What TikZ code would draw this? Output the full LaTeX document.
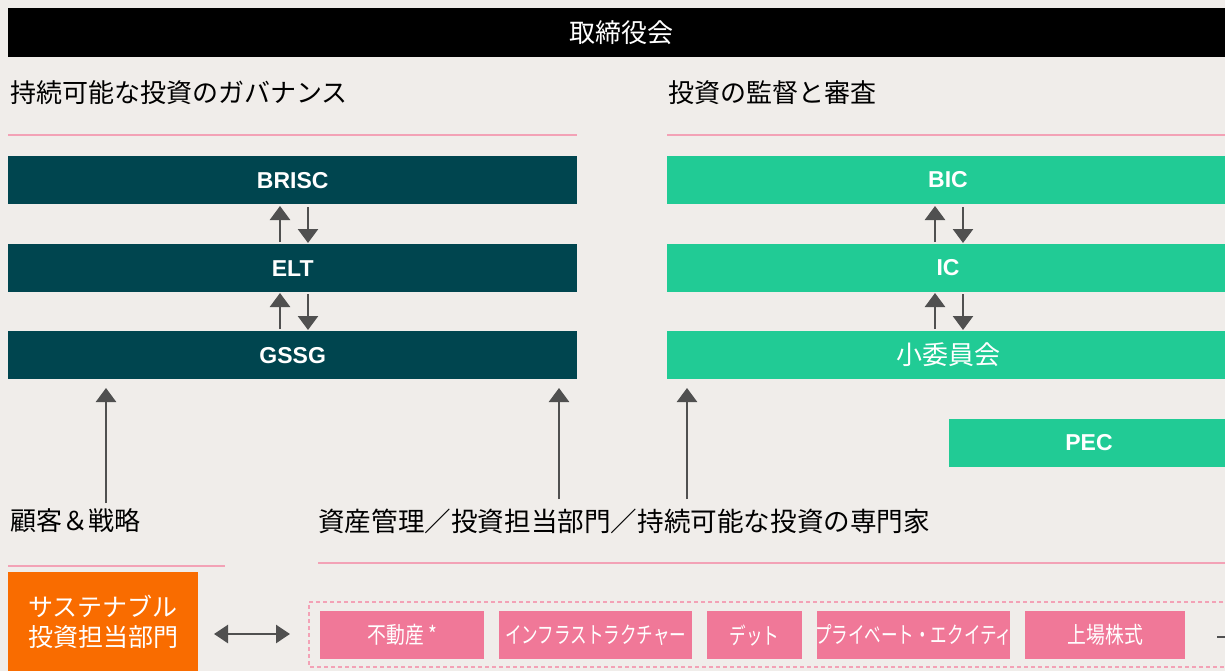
\documentclass[tikz,border=0pt]{standalone}
\usepackage{fontspec}
\setmainfont{Noto Sans CJK JP}
\newfontfamily\narrowjp[FakeStretch=0.72]{Noto Sans CJK JP}
\newfontfamily\midjp[FakeStretch=0.82]{Noto Sans CJK JP}
\newfontfamily\latinb{Liberation Sans}
\usetikzlibrary{arrows.meta}
\definecolor{bg}{HTML}{F0EDEA}
\definecolor{teal}{HTML}{00454F}
\definecolor{mint}{HTML}{21CB95}
\definecolor{orng}{HTML}{F96C00}
\definecolor{pnk}{HTML}{F07898}
\definecolor{pline}{HTML}{F3A2B6}
\definecolor{agray}{HTML}{505050}
\tikzset{
  bar/.style={draw=none,inner sep=0pt},
  lbl/.style={text=white,inner sep=0pt,font=\latinb\fontsize{23}{26}\selectfont\bfseries},
  jlbl/.style={text=white,inner sep=0pt,font=\fontsize{26}{28}\selectfont},
  plbl/.style={text=white,inner sep=0pt,font=\narrowjp\fontsize{23}{24}\selectfont},
  klbl/.style={text=white,inner sep=0pt,font=\midjp\fontsize{23}{24}\selectfont},
  heading/.style={anchor=west,inner sep=0pt,font=\fontsize{26}{28}\selectfont},
  rule/.style={draw=pline,line width=1.5pt},
  arr/.style={draw=agray,line width=2.6pt,-{Triangle[width=20pt,length=14pt]}},
  darr/.style={draw=agray,line width=2.6pt,{Triangle[width=18pt,length=14pt]}-{Triangle[width=18pt,length=14pt]}}
}
\begin{document}
\begin{tikzpicture}[x=1pt,y=-1pt]
\fill[bg] (0,0) rectangle (1225,671);
\useasboundingbox (0,0) rectangle (1225,671);
% top bar
\node[bar,fill=black,minimum width=1217pt,minimum height=49pt,anchor=north west] (board) at (8,8) {};
\node[jlbl] (boardt) at (621,33) {取締役会};
% headings
\node[heading] (h1) at (10,93) {持続可能な投資のガバナンス};
\node[heading] (h2) at (668,93) {投資の監督と審査};
\draw[rule] (8,135) -- (577,135);
\draw[rule] (667,135) -- (1225,135);
% left stack
\node[bar,fill=teal,minimum width=569pt,minimum height=48pt,anchor=north west] (brisc) at (8,156) {};
\node[lbl] at (brisc.center) {BRISC};
\node[bar,fill=teal,minimum width=569pt,minimum height=48pt,anchor=north west] (elt) at (8,244) {};
\node[lbl] at (elt.center) {ELT};
\node[bar,fill=teal,minimum width=569pt,minimum height=48pt,anchor=north west] (gssg) at (8,331) {};
\node[lbl] at (gssg.center) {GSSG};
% right stack
\node[bar,fill=mint,minimum width=558pt,minimum height=48pt,anchor=north west] (bic) at (667,156) {};
\node[lbl] at (948,180) {BIC};
\node[bar,fill=mint,minimum width=558pt,minimum height=48pt,anchor=north west] (ic) at (667,244) {};
\node[lbl] at (948,268) {IC};
\node[bar,fill=mint,minimum width=558pt,minimum height=48pt,anchor=north west] (sub) at (667,331) {};
\node[jlbl] at (948,355) {小委員会};
\node[bar,fill=mint,minimum width=276pt,minimum height=48pt,anchor=north west] (pec) at (949,419) {};
\node[lbl] at (1089,443) {PEC};
% pair arrows
\draw[arr] (280,242) -- (280,206);
\draw[arr] (308,207) -- (308,243);
\draw[arr] (280,329) -- (280,293);
\draw[arr] (308,294) -- (308,330);
\draw[arr] (935,242) -- (935,206);
\draw[arr] (963,207) -- (963,243);
\draw[arr] (935,329) -- (935,293);
\draw[arr] (963,294) -- (963,330);
% lower labels
\node[heading] (cl) at (10,521) {顧客＆戦略};
\node[heading,font=\fontsize{26.6}{28}\selectfont] (am) at (318,521) {資産管理／投資担当部門／持続可能な投資の専門家};
\coordinate (u1) at (106,503);
\coordinate (u2) at (559,499);
\coordinate (u3) at (687,499);
\draw[arr] (u1) -- (106,388);
\draw[arr] (u2) -- (559,388);
\draw[arr] (u3) -- (687,388);
\draw[rule] (8,566) -- (225,566);
\draw[rule] (318,563) -- (1225,563);
% orange box
\node[bar,fill=orng,minimum width=190pt,minimum height=110pt,anchor=north west] (sus) at (8,572) {};
\node[text=white,font=\fontsize{25}{30}\selectfont,inner sep=0pt,align=center] at (103,622) {サステナブル\\投資担当部門};
% dashed container
\draw[pline,line width=1.3pt,dash pattern=on 4pt off 3pt] (1230,602) -- (309,602) -- (309,667) -- (1230,667);
\coordinate (dl) at (214,634);
\coordinate (dr) at (290,634);
\draw[darr] (dl) -- (dr);
% pink boxes
\node[bar,fill=pnk,minimum width=164pt,minimum height=48pt,anchor=north west] (re) at (320,611) {};
\node[klbl] at (re.center) {不動産 *};
\node[bar,fill=pnk,minimum width=193pt,minimum height=48pt,anchor=north west] (inf) at (499,611) {};
\node[plbl] at (inf.center) {インフラストラクチャー};
\node[bar,fill=pnk,minimum width=95pt,minimum height=48pt,anchor=north west] (debt) at (707,611) {};
\node[plbl] at (debt.center) {デット};
\node[bar,fill=pnk,minimum width=193pt,minimum height=48pt,anchor=north west] (pe) at (817,611) {};
\node[plbl] at (pe.center) {プライベート・エクイティ};
\node[bar,fill=pnk,minimum width=160pt,minimum height=48pt,anchor=north west] (eq) at (1025,611) {};
\node[klbl] at (eq.center) {上場株式};
\coordinate (tail) at (1230,637);
\draw[agray,line width=2pt] (eq.east |- tail) ++(32,0) -- (tail);
\end{tikzpicture}
\end{document}
